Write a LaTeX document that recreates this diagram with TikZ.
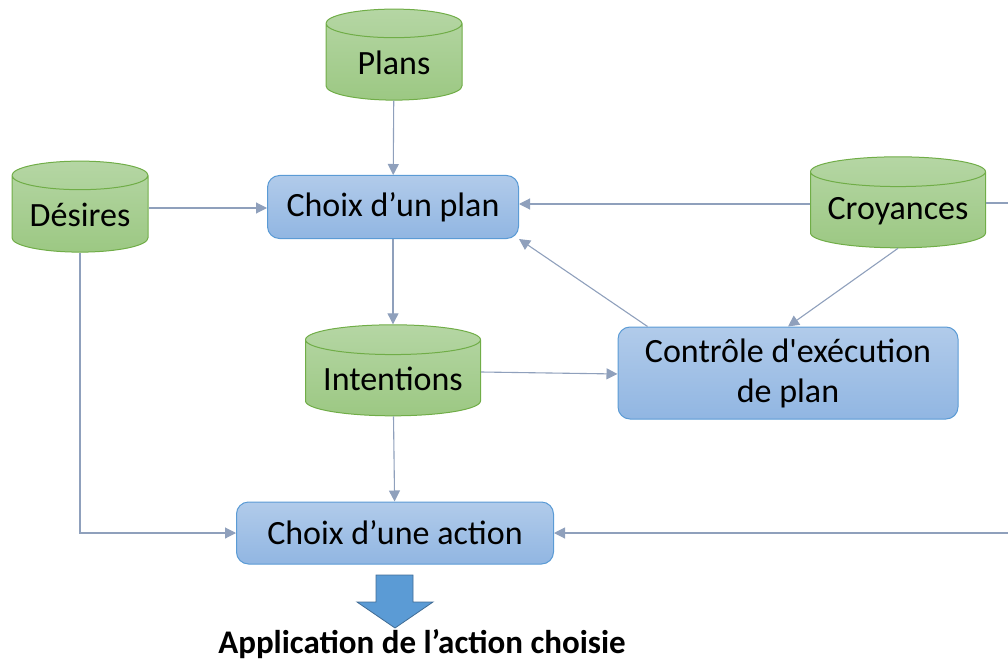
\documentclass[tikz,border=0pt]{standalone}
\usepackage{fontspec}
\setmainfont{Carlito}[Ligatures=TeXOff]
\usetikzlibrary{positioning}
\usetikzlibrary{shapes.geometric}
\usetikzlibrary{arrows.meta}
\definecolor{dbtop}{HTML}{B5D6A4}
\definecolor{dbbot}{HTML}{9CC883}
\definecolor{dbline}{HTML}{70AD47}
\definecolor{boxtop}{HTML}{B1CBEA}
\definecolor{boxbot}{HTML}{91B6E2}
\definecolor{boxline}{HTML}{5B9BD5}
\definecolor{linkc}{HTML}{8FA0BC}
\definecolor{bigarr}{HTML}{5B9BD5}
\tikzset{
  db/.style={cylinder, shape border rotate=90, aspect=0.21, draw=dbline, line width=1,
    top color=dbtop, bottom color=dbbot, minimum height=91, inner sep=0,
    label={[yshift=-1]center:#1}},
  wide/.style={aspect=0.17},
  proc/.style={rectangle, rounded corners=12, draw=boxline, line width=1,
    top color=boxtop, bottom color=boxbot, align=center, inner sep=0},
  link/.style={draw=linkc, line width=1.1, -{Triangle[length=11,width=11]}}
}
\newcommand{\dbwidth}[1]{\hspace*{#1pt}}
\begin{document}
\begin{tikzpicture}[x=1pt, y=-1pt, font=\fontsize{34}{40}\selectfont]
\useasboundingbox (0,0) rectangle (1008,663);
% stores
\node[db=Plans] (plans) at (394,62) {\dbwidth{136}};
\node[db=Désires] (desires) at (80,214) {\dbwidth{136}};
\node[db=Croyances, wide] (croy) at (898,210) {\dbwidth{175}};
\node[db=Intentions, wide] (intent) at (393,378) {\dbwidth{175}};
% processes
\node[proc, minimum width=251, minimum height=63] (cplan) at (393,207) {Choix d’un plan};
\node[proc, minimum width=340, minimum height=92] (ctrl) at (788,373) {Contrôle d'exécution\\de plan};
\node[proc, minimum width=317, minimum height=62] (caction) at (395,533) {Choix d’une action};
% loop leaving on the right
\coordinate (outA) at (1008,203);
\coordinate (outB) at (1008,533);
\draw[link] (plans) -- (cplan);
\draw[link] (desires.east |- 0,208) -- (cplan.west |- 0,208);
\draw[link] (croy.west |- 0,204) -- (cplan.east |- 0,204);
\draw[draw=linkc, line width=1.1] (croy.east |- outA) -- (outA);
\draw[link] (outB) -- (caction.east);
\draw[link] (cplan) -- (intent);
\draw[link] (intent.east |- 0,372) -- (ctrl.west |- 0,374);
\draw[link] (ctrl.north west) ++(30,0) -- (cplan.south east);
\draw[link] (croy.south) -- (ctrl.north);
\draw[link] (intent) -- (caction);
\draw[link] (desires.south) |- (caction.west);
% result
\draw[draw=bigarr!70!black, fill=bigarr, line width=0.8] (376,575) -- (413,575) -- (413,602) -- (433,602)
  -- (395,628) -- (357,602) -- (376,602) -- cycle;
\node[font=\fontsize{33}{40}\selectfont\bfseries] (appli) at (422,644) {Application de l’action choisie};
\end{tikzpicture}
\end{document}
